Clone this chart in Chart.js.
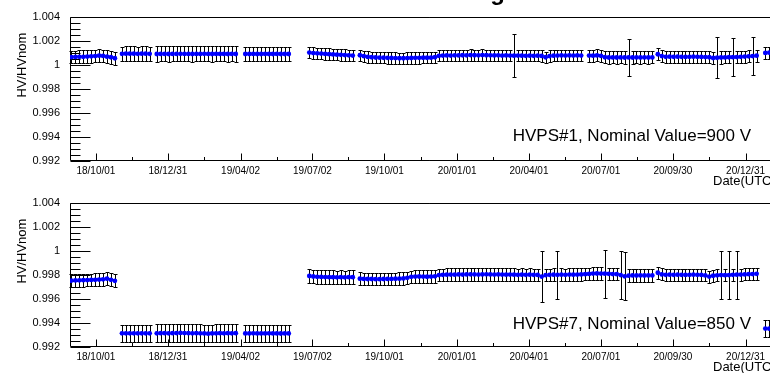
<!DOCTYPE html>
<html>
<head>
<meta charset="utf-8">
<script src="https://cdn.jsdelivr.net/npm/chart.js@4.4.1/dist/chart.umd.min.js"></script>
<style>
  html, body { margin: 0; padding: 0; background: #fff; }
  #wrap { position: relative; width: 770px; height: 373px; overflow: hidden; }
  canvas { position: absolute; left: 0; }
</style>
</head>
<body>
<div id="wrap">
  <canvas id="hv1" width="790" height="190" style="top:0"></canvas>
  <canvas id="hv7" width="790" height="187" style="top:186px"></canvas>
</div>
<script>
// x values are days since 2018-10-01 (UTC)
const xTickDays = [0, 91, 183, 274, 365, 457, 548, 639, 730, 822];
const xTickLabels = ['18/10/01', '18/12/31', '19/04/02', '19/07/02', '19/10/01',
                     '20/01/01', '20/04/01', '20/07/01', '20/09/30', '20/12/31'];
const yTickValues = [0.992, 0.994, 0.996, 0.998, 1, 1.002, 1.004];
const yTickLabels = ['0.992', '0.994', '0.996', '0.998', '1', '1.002', '1.004'];
const sampleStep = 5; // one point every 5 days

// HVPS#1 : first day of each run of points, its error, and the values
const hv1Start = [-31, 33, 77, 189, 270, 334, 624, 711, 847];
const hv1Err = [0.00053, 0.0006, 0.00063, 0.0006, 0.00047, 0.00047, 0.0005, 0.0005, 0.0005];
const hv1Values = [
  [1.00064, 1.00065, 1.00066, 1.00066, 1.00068, 1.0007, 1.00072, 1.00075, 1.00073, 1.00067, 1.00062, 1.00054],
  [1.00091, 1.00092, 1.00092, 1.00092, 1.00091, 1.00092, 1.00092, 1.00091],
  [1.00089, 1.0009, 1.0009, 1.00089, 1.0009, 1.0009, 1.00091, 1.0009, 1.0009, 1.00089, 1.0009,
   1.0009, 1.00091, 1.0009, 1.00089, 1.0009, 1.0009, 1.0009, 1.00089, 1.0009, 1.00089],
  [1.00089, 1.00089, 1.0009, 1.00089, 1.00089, 1.0009, 1.00089, 1.00089, 1.0009, 1.00089, 1.00089, 1.00089],
  [1.00101, 1.00097, 1.00095, 1.00093, 1.0009, 1.00088, 1.00086, 1.00084, 1.00082, 1.0008, 1.00078, 1.00076],
  [1.00079, 1.00071, 1.00065,
   1.00062, 1.0006, 1.00059, 1.00058, 1.00057, 1.00056, 1.00055, 1.00054, 1.00054, 1.00055,
   1.00056, 1.00057, 1.00057, 1.00058, 1.00058, 1.00059, 1.00062,
   1.00074, 1.00076, 1.00077, 1.00076, 1.00078, 1.00077, 1.00079, 1.00078, 1.0008, 1.00079,
   1.00078, 1.0008, 1.00079, 1.00078, 1.00077, 1.00078, 1.00076, 1.00077, 1.00076, 1.00075,
   1.00076, 1.00075, 1.00074, 1.00075, 1.00074, 1.00075, 1.00073, 1.00062, 1.00072, 1.00075,
   1.00076, 1.00077, 1.00076, 1.00077, 1.00076, 1.00077, 1.00076],
  [1.00076, 1.00075, 1.00077, 1.00074, 1.00062, 1.0006, 1.00061, 1.0006, 1.00061, 1.0006,
   1.00061, 1.0006, 1.00061, 1.0006, 1.00061, 1.0006, 1.00061],
  [1.00087, 1.00072, 1.00066, 1.00067, 1.00066, 1.00067, 1.00066, 1.00065, 1.00066, 1.00067,
   1.00066, 1.00065, 1.00064, 1.00062, 1.00056, 1.00058, 1.0006, 1.00061, 1.00062, 1.00063,
   1.00064, 1.00066, 1.00068, 1.0007, 1.00072, 1.00075],
  [1.00098, 1.001]
];
const hv1WideDays = [531, 676, 787, 806, 830];
const hv1WideErr = [0.0018, 0.00155, 0.0017, 0.0016, 0.0016];

// HVPS#7
const hv7Start = [-31, 33, 77, 189, 270, 334, 711, 847];
const hv7Err = [0.00053, 0.0007, 0.00073, 0.0007, 0.00056, 0.00052, 0.0005, 0.0007];
const hv7Values = [
  [0.99752, 0.99753, 0.99754, 0.99755, 0.99756, 0.99757, 0.99758, 0.9976, 0.99762, 0.99768, 0.99758, 0.9975],
  [0.99314, 0.99314, 0.99314, 0.99314, 0.99314, 0.99314, 0.99314, 0.99314],
  [0.99314, 0.99315, 0.99315, 0.99314, 0.99315, 0.99316, 0.99317, 0.99316, 0.99315, 0.99314, 0.99315,
   0.99314, 0.99313, 0.99311, 0.99313, 0.99314, 0.99315, 0.99314, 0.99315, 0.99314, 0.99315],
  [0.99313, 0.99313, 0.99314, 0.99313, 0.99313, 0.99313, 0.99314, 0.99313, 0.99313, 0.99312, 0.99313, 0.99313],
  [0.9979, 0.99786, 0.99783, 0.99782, 0.99781, 0.9978, 0.9978, 0.99779, 0.9978, 0.99779, 0.9978, 0.9978],
  [0.99768, 0.99766, 0.99765, 0.99765, 0.99764, 0.99764, 0.99765, 0.99766, 0.99766, 0.99767, 0.99768, 0.9977, 0.99775,
   0.99783, 0.99785, 0.99786, 0.99785, 0.99784, 0.99785, 0.99787,
   0.99798, 0.998, 0.99801, 0.99802, 0.99801, 0.99803, 0.99802, 0.99803, 0.99804, 0.99803,
   0.99802, 0.99803, 0.99804, 0.99803, 0.99802, 0.99803, 0.99802, 0.99801, 0.99802, 0.99801,
   0.998, 0.99801, 0.998, 0.99801, 0.998, 0.99799,
   0.99785,
   0.99797, 0.998, 0.99801, 0.998, 0.99801, 0.998, 0.99802, 0.99801, 0.99802, 0.99803, 0.99805, 0.99807,
   0.9981, 0.99811, 0.9981, 0.99809, 0.99808, 0.99806, 0.99805, 0.99798,
   0.99787,
   0.99793, 0.99795, 0.99794, 0.99795, 0.99794, 0.99795, 0.99795],
  [0.99817, 0.99803, 0.998, 0.99801, 0.998, 0.99801, 0.998, 0.99799, 0.998, 0.99801,
   0.998, 0.99799, 0.99795, 0.99785, 0.99792, 0.99796, 0.99798, 0.99797, 0.99798, 0.998,
   0.99801, 0.99802, 0.99803, 0.99805, 0.99806, 0.99808],
  [0.99353, 0.99352]
];
const hv7WideDays = [566, 586, 642, 662, 667, 792, 802, 812];
const hv7WideErr = [0.00215, 0.002, 0.002, 0.002, 0.002, 0.002, 0.002, 0.002];

Chart.defaults.font.family = '"Liberation Sans", Arial, Helvetica, sans-serif';
Chart.defaults.color = '#000';

function buildPoints(starts, errs, values, wideDays, wideErr) {
  const pts = [];
  values.forEach((seg, s) => {
    seg.forEach((v, i) => pts.push({ x: starts[s] + sampleStep * i, y: v, e: errs[s] }));
  });
  // a few points have much larger errors
  wideDays.forEach((d, k) => {
    let best = pts[0];
    pts.forEach(p => { if (Math.abs(p.x - d) < Math.abs(best.x - d)) best = p; });
    best.e = wideErr[k];
  });
  return pts;
}

// ROOT-like frame with ticks drawn inside the axes
const frame = {
  id: 'frame',
  beforeDatasetsDraw(chart) {
    const { ctx, chartArea: a, scales: { x, y } } = chart;
    const L = Math.round(a.left) + 0.5, T = Math.round(a.top) + 0.5, B = Math.round(a.bottom) - 0.5;
    ctx.save();
    ctx.strokeStyle = '#000';
    ctx.lineWidth = 1;
    ctx.beginPath();
    ctx.moveTo(a.right, T); ctx.lineTo(L, T); ctx.lineTo(L, B); ctx.lineTo(a.right, B);
    for (let k = 0; k <= 24; k++) {
      const py = Math.round(y.getPixelForValue(0.992 + k * 0.0005)) + 0.5;
      ctx.moveTo(L, py); ctx.lineTo(L + (k % 4 === 0 ? 20 : 10), py);
    }
    xTickDays.forEach((d, i) => {
      const px = Math.round(x.getPixelForValue(d)) + 0.5;
      ctx.moveTo(px, B); ctx.lineTo(px, B - 7);
      const next = i < xTickDays.length - 1 ? xTickDays[i + 1] : d + 91;
      const mx = Math.round(x.getPixelForValue((d + next) / 2)) + 0.5;
      ctx.moveTo(mx, B); ctx.lineTo(mx, B - 3.5);
    });
    ctx.stroke();
    ctx.restore();
  }
};

const errorBars = {
  id: 'errorBars',
  beforeDatasetsDraw(chart) {
    const { ctx, scales: { y } } = chart;
    const ds = chart.data.datasets[0];
    const meta = chart.getDatasetMeta(0);
    ctx.save();
    ctx.strokeStyle = '#000';
    ctx.lineWidth = 1;
    ctx.beginPath();
    meta.data.forEach((el, i) => {
      const p = ds.data[i];
      const px = Math.round(el.x) + 0.5;
      const top = Math.round(y.getPixelForValue(p.y + p.e)) + 0.5;
      const bot = Math.round(y.getPixelForValue(p.y - p.e)) + 0.5;
      ctx.moveTo(px, top); ctx.lineTo(px, bot);
      ctx.moveTo(px - 2, top); ctx.lineTo(px + 2, top);
      ctx.moveTo(px - 2, bot); ctx.lineTo(px + 2, bot);
    });
    ctx.stroke();
    ctx.restore();
  }
};

const panelText = {
  id: 'panelText',
  afterDraw(chart, args, opts) {
    const { ctx, chartArea: a } = chart;
    ctx.save();
    ctx.fillStyle = '#000';
    // y axis title, aligned to the top of the axis
    ctx.save();
    ctx.translate(22, a.top + 16);
    ctx.rotate(-Math.PI / 2);
    ctx.font = '13px "Liberation Sans", Arial, sans-serif';
    ctx.textAlign = 'right';
    ctx.textBaseline = 'middle';
    ctx.fillText('HV/HVnom', 0, 0);
    ctx.restore();
    ctx.font = '17px "Liberation Sans", Arial, sans-serif';
    ctx.textAlign = 'right';
    ctx.textBaseline = 'alphabetic';
    ctx.fillText(opts.label, 751, opts.labelY);
    ctx.font = '13px "Liberation Sans", Arial, sans-serif';
    ctx.textAlign = 'left';
    ctx.fillText('Date(UTC)', 713, opts.dateY);
    if (opts.title) {
      ctx.font = 'bold 24px "Liberation Sans", Arial, sans-serif';
      ctx.textAlign = 'right';
      ctx.fillText(opts.title, 505, 0);
    }
    ctx.restore();
  }
};

function makeChart(id, pts, text, bottomH) {
  return new Chart(document.getElementById(id), {
    type: 'scatter',
    data: {
      datasets: [{
        data: pts,
        pointRadius: 2.4,
        pointHoverRadius: 2.4,
        pointBackgroundColor: '#0000ff',
        pointBorderWidth: 0,
        borderWidth: 0
      }]
    },
    options: {
      responsive: false,
      animation: false,
      devicePixelRatio: 1,
      layout: { padding: { top: 9, right: 0, bottom: 0, left: 0 } },
      plugins: { legend: { display: false }, tooltip: { enabled: false }, panelText: text },
      scales: {
        x: {
          type: 'linear', min: -32.8, max: 875.2,
          grid: { display: false, drawTicks: false },
          border: { display: false },
          afterBuildTicks: s => { s.ticks = xTickDays.map(v => ({ value: v })); },
          afterFit: s => { s.height = bottomH; },
          ticks: {
            autoSkip: false, maxRotation: 0, padding: 4,
            font: { size: 10 },
            callback: (v, i) => xTickLabels[i]
          }
        },
        y: {
          min: 0.992, max: 1.004,
          grid: { display: false, drawTicks: false },
          border: { display: false },
          afterBuildTicks: s => { s.ticks = yTickValues.map(v => ({ value: v })); },
          afterFit: s => { s.width = 70; },
          ticks: {
            padding: 10,
            font: { size: 11 },
            callback: (v, i) => yTickLabels[i]
          }
        }
      }
    },
    plugins: [frame, errorBars, panelText]
  });
}

makeChart('hv1', buildPoints(hv1Start, hv1Err, hv1Values, hv1WideDays, hv1WideErr),
  { label: 'HVPS#1, Nominal Value=900 V', labelY: 141, dateY: 185, title: 'HV Monitoring' }, 29);
makeChart('hv7', buildPoints(hv7Start, hv7Err, hv7Values, hv7WideDays, hv7WideErr),
  { label: 'HVPS#7, Nominal Value=850 V', labelY: 143, dateY: 185 }, 26);
</script>
</body>
</html>
